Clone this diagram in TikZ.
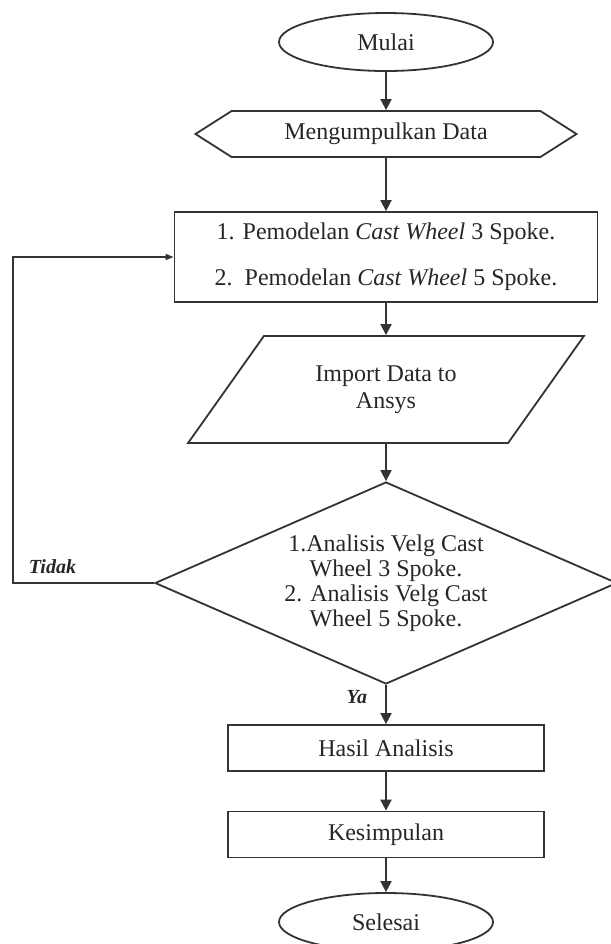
\documentclass[tikz,border=0pt]{standalone}
\usepackage{fontspec}
\setmainfont{Liberation Serif}
\usetikzlibrary{shapes.geometric,shapes.symbols,arrows.meta}
\begin{document}
\begin{tikzpicture}[x=0.5pt,y=-0.5pt,
    every node/.style={font=\fontsize{12pt}{14pt}\selectfont, text=black!85},
    line/.style={line width=0.9pt, draw=black!80},
    arr/.style={line, -{Triangle[length=5.5pt,width=5.5pt]}},
    arrsmall/.style={line, -{Triangle[length=4pt,width=3pt]}},
    term/.style={line, ellipse, minimum width=107pt, minimum height=29pt, inner sep=0pt},
    sig/.style={line, signal, signal to=west and east, signal pointer angle=65,
                minimum width=190.5pt, minimum height=23pt, inner sep=0pt},
    proc/.style={line, rectangle, minimum width=158pt, minimum height=23pt, inner sep=0pt, align=center},
    para/.style={line, trapezium, trapezium left angle=47.5, trapezium right angle=132.5,
                 trapezium stretches=true, minimum width=198pt, minimum height=53.5pt,
                 inner sep=0pt, align=center},
    dec/.style={line, diamond, aspect=2.29, minimum width=231pt, minimum height=101pt,
                inner sep=0pt, align=center},
    lab/.style={font=\fontsize{10pt}{12pt}\selectfont\bfseries\itshape, inner sep=1pt}
  ]
  % 画布边界(与原图比例一致)
  \useasboundingbox (0,0) rectangle (611,944);

  % 流程节点
  \node[term] (mulai) at (386,42) {Mulai};
  \node[sig] (data) at (386,134) {Mengumpulkan Data};
  \node[proc, minimum width=211.5pt, minimum height=45pt] (model) at (386,257)
    {1. Pemodelan \textit{Cast Wheel} 3 Spoke.\\[9pt]
     2.\ \ Pemodelan \textit{Cast Wheel} 5 Spoke.};
  \node[para, font=\fontsize{12pt}{13.5pt}\selectfont] (impor) at (386,389.5)
    {Import Data to\\Ansys};
  \node[dec, font=\fontsize{12pt}{12.5pt}\selectfont] (analisis) at (386,583)
    {1.Analisis Velg Cast\\Wheel 3 Spoke.\\2. Analisis Velg Cast\\Wheel 5 Spoke.};
  \node[proc] (hasil) at (386,748) {Hasil Analisis};
  \node[proc] (simpul) at (386,834.5) {Kesimpulan};
  \node[term] (selesai) at (386,922) {Selesai};

  % 回路拐点
  \coordinate (loop) at (13,583);

  % 连线
  \draw[arr] (mulai) -- (data);
  \draw[arr] (data) -- (model);
  \draw[arr] (model) -- (impor);
  \draw[arr] (impor) -- (analisis);
  \draw[arr] (analisis) -- node[pos=0.32, left=8pt, lab] {Ya} (hasil);
  \draw[arr] (hasil) -- (simpul);
  \draw[arr] (simpul) -- (selesai);
  \draw[arrsmall] (analisis.west) -- node[pos=0.72, above=3pt, lab] {Tidak} (loop) |- (model.west);
\end{tikzpicture}
\end{document}
